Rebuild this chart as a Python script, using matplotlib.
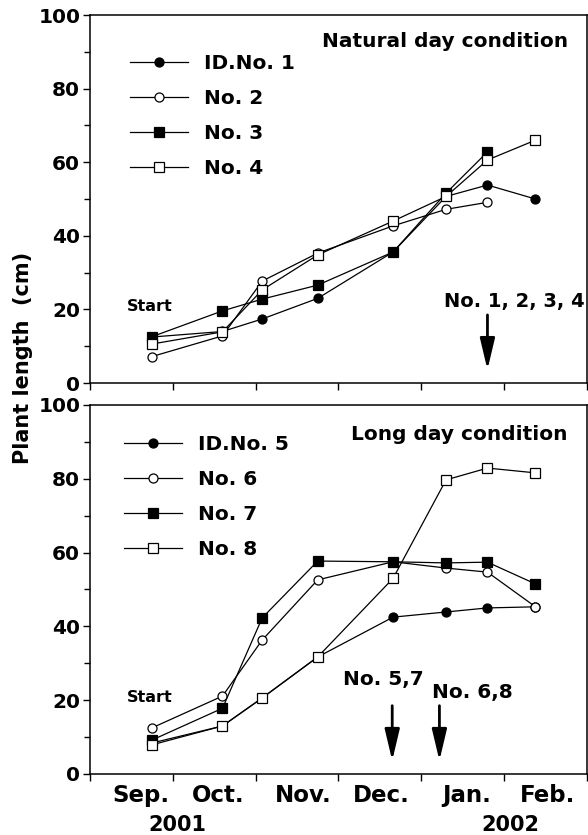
import numpy as np
import matplotlib
matplotlib.use("Agg")
import matplotlib.pyplot as plt

plt.rcParams['font.family'] = ['DejaVu Sans']
plt.rcParams['font.weight'] = 'bold'

# sampling dates, in months after 1 Sep 2001
dates = [0.75, 1.6, 2.08, 2.75, 3.66, 4.3, 4.8, 5.38]

# natural day condition (cm)
no1 = [12.5, 14.0, 17.4, 23.0, 35.6, 50.7, 53.8, 50.0]
no2 = [7.2, 12.8, 27.7, 35.3, 42.7, 47.2, 49.1]
no3 = [12.6, 19.6, 22.8, 26.6, 35.6, 51.6, 62.8]
no4 = [10.6, 13.9, 25.3, 34.8, 44.0, 50.7, 60.6, 66.0]

# long day condition (cm)
no5 = [8.4, 13.0, 20.6, 31.7, 42.5, 43.9, 45.0, 45.3]
no6 = [12.5, 21.1, 36.3, 52.6, 57.5, 55.8, 54.7, 45.3]
no7 = [9.2, 17.8, 42.3, 57.7, 57.5, 57.2, 57.4, 51.5]
no8 = [7.9, 13.0, 20.6, 31.7, 53.0, 79.7, 82.9, 81.6]

labels_top = ["ID.No. 1", "No. 2", "No. 3", "No. 4"]
labels_bot = ["ID.No. 5", "No. 6", "No. 7", "No. 8"]
month_labels = ["Sep.", "Oct.", "Nov.", "Dec.", "Jan.", "Feb."]
month_pos = [0.62, 1.55, 2.58, 3.52, 4.55, 5.52]

styles = [dict(marker='o', mfc='black'),
          dict(marker='o', mfc='white'),
          dict(marker='s', mfc='black'),
          dict(marker='s', mfc='white')]

fig = plt.figure(figsize=(5.88, 8.35), dpi=100)
ax1 = fig.add_axes([0.153, 0.5413, 0.845, 0.4407])
ax2 = fig.add_axes([0.153, 0.0731, 0.845, 0.4419])


def draw(ax, series, labels, legend_anchor):
    for vals, lab, st in zip(series, labels, styles):
        ax.plot(dates[:len(vals)], vals, color='black', lw=0.9, ms=6.5,
                mec='black', mew=0.9, label=lab, clip_on=False, **st)
    ax.set_xlim(0, 6)
    ax.set_ylim(0, 100)
    ax.set_xticks(range(7))
    ax.set_xticklabels([])
    ax.set_yticks(range(0, 101, 20))
    ax.set_yticks(range(10, 100, 20), minor=True)
    ax.tick_params(axis='both', which='major', direction='out', length=5,
                   width=1, labelsize=14.5, pad=2)
    ax.tick_params(axis='y', which='minor', direction='out', length=4, width=1)
    for s in ax.spines.values():
        s.set_linewidth(1.1)
    ax.legend(loc='upper left', bbox_to_anchor=legend_anchor, frameon=False,
              fontsize=14.5, handlelength=2.9, handletextpad=0.8,
              labelspacing=0.8, borderpad=0, borderaxespad=0, numpoints=1)
    ax.text(0.45, 19.6, "Start", fontsize=11.5, ha='left', va='baseline')


def arrow(ax, x):
    ax.annotate("", xy=(x, 3.6), xytext=(x, 18.5),
                arrowprops=dict(arrowstyle='-|>,head_length=1.9,head_width=0.45',
                                mutation_scale=10, lw=2, color='black',
                                shrinkA=0, shrinkB=0))


draw(ax1, [no1, no2, no3, no4], labels_top, (0.08, 0.894))
ax1.text(5.77, 91.3, "Natural day condition", fontsize=14.5, ha='right', va='baseline')
ax1.text(4.27, 20.6, "No. 1, 2, 3, 4", fontsize=14, ha='left', va='baseline')
arrow(ax1, 4.8)

draw(ax2, [no5, no6, no7, no8], labels_bot, (0.068, 0.919))
ax2.text(5.77, 90.5, "Long day condition", fontsize=14.5, ha='right', va='baseline')
ax2.text(3.05, 24.0, "No. 5,7", fontsize=14.5, ha='left', va='baseline')
ax2.text(4.13, 20.6, "No. 6,8", fontsize=14.5, ha='left', va='baseline')
arrow(ax2, 3.65)
arrow(ax2, 4.22)

ax2.set_xticks(month_pos, minor=True)
ax2.set_xticklabels(month_labels, minor=True)
ax2.tick_params(axis='x', which='minor', length=0, labelsize=16.5, pad=7)
trans = ax2.get_xaxis_transform()
ax2.text(1.06, -0.155, "2001", transform=trans, fontsize=15, ha='center', va='baseline')
ax2.text(5.08, -0.155, "2002", transform=trans, fontsize=15, ha='center', va='baseline')

fig.text(0.039, 0.571, "Plant length  (cm)", rotation=90, fontsize=15,
         ha='center', va='center')

fig.savefig("out.png", dpi=100)
